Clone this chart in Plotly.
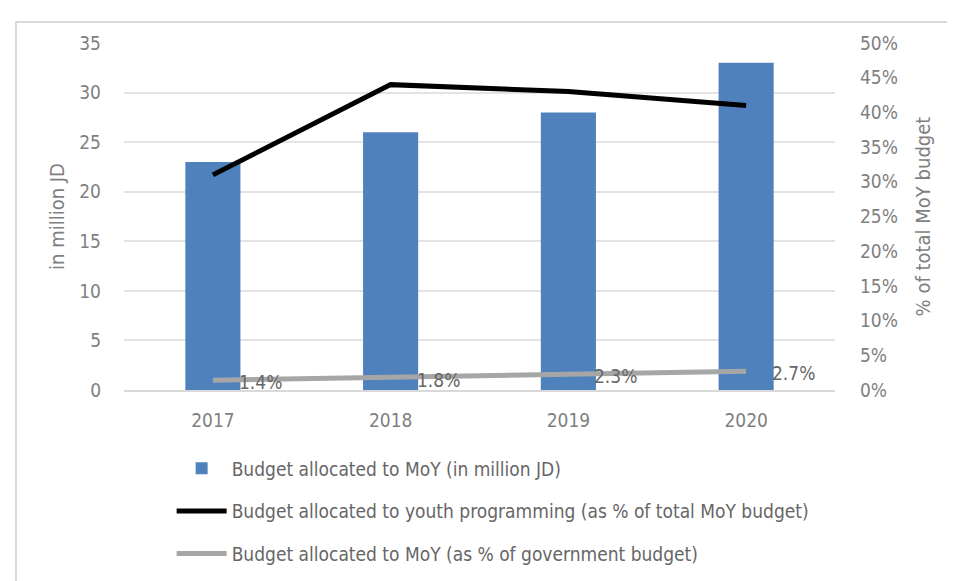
import plotly.graph_objects as go

years = ["2017", "2018", "2019", "2020"]
moy_budget = [23, 26, 28, 33]
youth_share = [31, 44, 43, 41]
gov_share = [1.4, 1.8, 2.3, 2.7]
gov_labels = ["1.4%", "1.8%", "2.3%", "2.7%"]
left_ticks = [0, 5, 10, 15, 20, 25, 30, 35]
right_ticks = [0, 5, 10, 15, 20, 25, 30, 35, 40, 45, 50]

FONT = "DejaVu Sans Condensed, Liberation Sans Narrow, Arial Narrow, Liberation Sans, sans-serif"
GREY = "#7f7f7f"
FS = 19

fig = go.Figure()
fig.add_trace(go.Bar(
    x=years, y=moy_budget, name="Budget allocated to MoY (in million JD)",
    marker=dict(color="#4f81bd", line=dict(width=0)), yaxis="y", legendgroup="a",
))
fig.add_trace(go.Scatter(
    x=years, y=youth_share, name="Budget allocated to youth programming (as % of total MoY budget)",
    mode="lines", line=dict(color="#000000", width=5), yaxis="y2", legendgroup="b",
))
fig.add_trace(go.Scatter(
    x=years, y=gov_share, name="Budget allocated to MoY (as % of government budget)",
    mode="lines", line=dict(color="#a6a6a6", width=5), yaxis="y2", legendgroup="c",
))

for i, (y, t) in enumerate(zip(gov_share, gov_labels)):
    fig.add_annotation(x=i, y=y, xref="x", yref="y2", text=t, showarrow=False,
                       xanchor="left", xshift=24, yshift=-2,
                       font=dict(family=FONT, size=FS, color="#666666"))

fig.update_layout(
    width=947, height=591,
    margin=dict(l=116, r=120, t=35, b=209),
    paper_bgcolor="white", plot_bgcolor="white",
    font=dict(family=FONT, size=FS, color=GREY),
    bargap=0.69,
    showlegend=True,
    legend=dict(orientation="v", x=0.067, xanchor="left", y=-0.171, yanchor="top",
                font=dict(family=FONT, size=FS, color="#666666"),
                tracegroupgap=15, itemwidth=50, bgcolor="rgba(0,0,0,0)"),
    xaxis=dict(type="category", range=[-0.5, 3.5], showgrid=False, showline=True,
               linecolor="#d9d9d9", linewidth=2,
               ticks="", ticklabelstandoff=12,
               tickfont=dict(family=FONT, size=FS, color=GREY)),
    yaxis=dict(range=[0, 35], tickvals=left_ticks, showgrid=True, gridcolor="#e3e3e3", gridwidth=2,
               zeroline=False, ticklabelstandoff=22,
               title=dict(text="in million JD", standoff=9, font=dict(family=FONT, size=FS + 1, color=GREY)),
               tickfont=dict(family=FONT, size=FS, color=GREY)),
    yaxis2=dict(range=[0, 50], tickvals=right_ticks, ticktext=[f"{v}%" for v in right_ticks],
                overlaying="y", side="right", showgrid=False, zeroline=False, ticklabelstandoff=24,
                title=dict(text="% of total MoY budget", standoff=18, font=dict(family=FONT, size=FS + 1, color=GREY)),
                tickfont=dict(family=FONT, size=FS, color=GREY)),
)

fig.add_shape(type="rect", xref="paper", yref="paper",
              x0=-0.152, x1=1.2, y0=-0.7, y1=1.0605,
              line=dict(color="#d9d9d9", width=2), fillcolor="rgba(0,0,0,0)", layer="below")

fig.write_html("out.html")
